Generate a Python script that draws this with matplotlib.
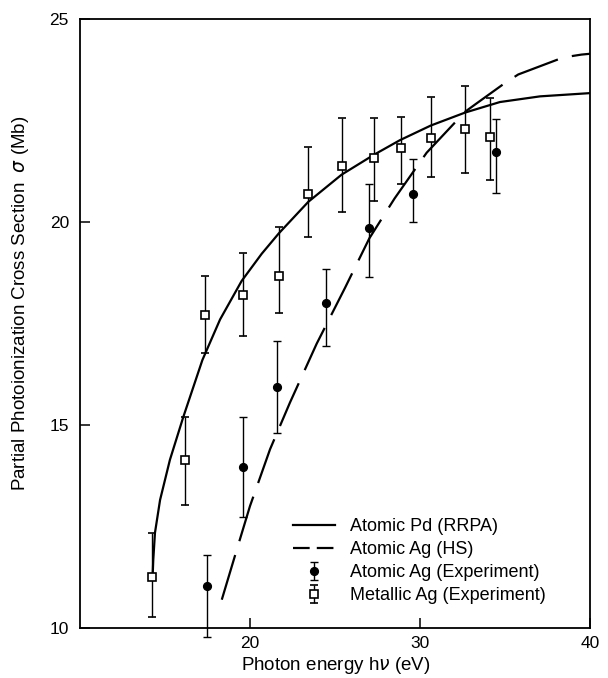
import matplotlib
matplotlib.use("Agg")
import matplotlib.pyplot as plt
from matplotlib.lines import Line2D

plt.rcParams['font.family'] = ['Liberation Sans', 'DejaVu Sans']

# Atomic Pd (RRPA) - solid curve
rrpa_x = [14.28, 14.31, 14.41, 14.71, 15.29, 16.08, 17.2, 18.24, 19.51, 20.69, 21.69,
          23.43, 25.39, 27.29, 28.82, 30.63, 32.65, 34.7, 37.06, 40.0]
rrpa_y = [11.35, 11.67, 12.34, 13.15, 14.14, 15.2, 16.6, 17.6, 18.55, 19.22, 19.72,
          20.5, 21.17, 21.66, 22.02, 22.38, 22.7, 22.96, 23.1, 23.18]

# Atomic Ag (HS) - dashed curve
hs_x = [18.34, 19.22, 20.0, 21.18, 22.35, 23.92, 25.59, 27.02, 28.5, 30.39, 32.65,
        33.34, 35.0, 35.78, 38.43, 39.5, 40.0]
hs_y = [10.69, 11.92, 13.0, 14.4, 15.55, 17.0, 18.38, 19.6, 20.58, 21.71, 22.72,
        22.93, 23.43, 23.64, 24.06, 24.13, 24.15]

# Atomic Ag (Experiment) - filled circles
atom_x = [17.49, 19.6, 21.6, 24.47, 27.02, 29.57, 34.47]
atom_y = [11.02, 13.96, 15.93, 18.0, 19.85, 20.7, 21.72]
atom_err_lo = [1.24, 1.22, 1.13, 1.05, 1.2, 0.7, 1.01]
atom_err_hi = [0.78, 1.23, 1.14, 0.85, 1.1, 0.85, 0.82]

# Metallic Ag (Experiment) - open squares
metal_x = [14.22, 16.18, 17.33, 19.57, 21.69, 23.43, 25.39, 27.29, 28.88, 30.63, 32.65, 34.12]
metal_y = [11.26, 14.14, 17.7, 18.21, 18.67, 20.69, 21.38, 21.59, 21.82, 22.07, 22.3, 22.09]
metal_err_lo = [0.99, 1.11, 0.93, 1.02, 0.91, 1.05, 1.13, 1.06, 0.88, 0.97, 1.09, 1.04]
metal_err_hi = [1.08, 1.05, 0.98, 1.02, 1.21, 1.17, 1.18, 0.98, 0.76, 1.02, 1.06, 0.98]

labels = ["Atomic Pd (RRPA)", "Atomic Ag (HS)", "Atomic Ag (Experiment)", "Metallic Ag (Experiment)"]

fig = plt.figure(figsize=(6.08, 6.78), dpi=100)
ax = fig.add_axes([80/608, 50.3/678, 510/608, 608.4/678])

lw = 1.6
l1, = ax.plot(rrpa_x, rrpa_y, color='black', lw=lw, solid_capstyle='butt',
              solid_joinstyle='round')
l2, = ax.plot(hs_x, hs_y, color='black', lw=lw, dashes=(21, 6.5), dash_capstyle='butt',
              dash_joinstyle='round')

e1 = ax.errorbar(atom_x, atom_y, yerr=[atom_err_lo, atom_err_hi], fmt='o', color='black',
                 ms=5.6, ecolor='black', elinewidth=1.0, capsize=2.8, capthick=1.0,
                 clip_on=False, zorder=3)
e2 = ax.errorbar(metal_x, metal_y, yerr=[metal_err_lo, metal_err_hi], fmt='s', mfc='white',
                 mec='black', mew=1.2, ms=5.8, ecolor='black', elinewidth=1.0, capsize=2.8,
                 capthick=1.0, zorder=4)

ax.set_xlim(10, 40)
ax.set_ylim(10, 25)
ax.set_xticks([20, 30, 40])
ax.set_yticks([10, 15, 20, 25])
ax.tick_params(direction='in', length=7.5, width=1.1, labelsize=12.5)
ax.tick_params(axis='x', pad=6)
ax.tick_params(axis='y', pad=8)
for s in ax.spines.values():
    s.set_linewidth(1.3)

fig.text(336/608, 1 - 666/678, r"Photon energy h$\nu$ (eV)", fontsize=13.5,
         ha='center', va='center')
fig.text(21/608, 1 - 303.5/678, r"Partial Photoionization Cross Section  $\sigma$ (Mb)",
         fontsize=13.5, rotation=90, ha='center', va='center')

# legend proxies (legend dash pattern is shorter than on the curve)
h1 = Line2D([], [], color='black', lw=lw)
h2 = Line2D([], [], color='black', lw=lw, dashes=(7.5, 3.2))
leg = ax.legend(handles=[h1, h2, e1, e2], labels=labels, loc='upper left',
                bbox_to_anchor=((293 - 80) / 510, (627.7 - 518) / 608.4),
                frameon=False, fontsize=13, borderpad=0, borderaxespad=0,
                handlelength=2.35, handletextpad=0.8, labelspacing=0.34)

fig.savefig("out.png", dpi=100)
